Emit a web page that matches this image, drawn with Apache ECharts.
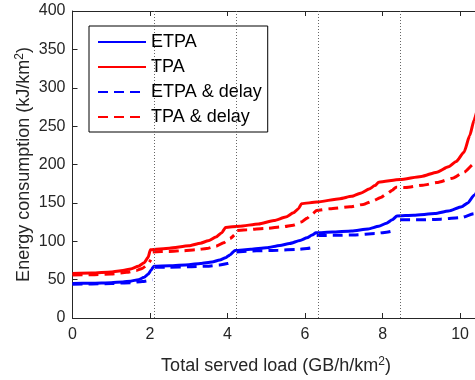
<!DOCTYPE html>
<html>
<head>
<meta charset="utf-8">
<style>
  html, body { margin: 0; padding: 0; background: #fff; }
  #chart { width: 475px; height: 380px; }
</style>
<script src="https://cdn.jsdelivr.net/npm/echarts@6/dist/echarts.min.js"></script>
</head>
<body>
<div id="chart"></div>
<script>
// Energy consumption vs. total served load for the four allocation schemes.
const seriesNames = ['ETPA', 'TPA', 'ETPA & delay', 'TPA & delay'];

// ETPA (solid blue)
const etpaX = [0, 0.5, 1.0, 1.3, 1.5, 1.7, 1.85, 1.95, 2.03, 2.1,
  2.5, 3.0, 3.3, 3.6, 3.8, 3.95, 4.07, 4.19,
  4.6, 5.0, 5.35, 5.6, 5.87, 6.05, 6.18, 6.28,
  6.7, 7.2, 7.63, 7.9, 8.1, 8.25, 8.37,
  8.8, 9.35, 9.7, 10.04, 10.2, 10.36, 10.5];
const etpaY = [45, 45.3, 46, 47, 48, 50, 53, 57, 62.5, 67.5,
  68, 69.5, 71, 73, 75.5, 78.5, 82.5, 88,
  89.5, 91.5, 94.5, 97, 101, 104.5, 108, 111,
  112, 113.5, 116, 119.5, 123.5, 128, 133,
  134, 136, 139.5, 145, 150, 160, 172];

// TPA (solid red)
const tpaX = [0, 0.5, 1.0, 1.3, 1.5, 1.7, 1.85, 1.95, 2.01,
  2.5, 3.0, 3.3, 3.5, 3.7, 3.85, 3.95,
  4.3, 4.8, 5.2, 5.5, 5.7, 5.83, 5.91,
  6.3, 6.9, 7.2, 7.45, 7.65, 7.8, 7.9,
  8.45, 9.0, 9.4, 9.7, 9.9, 10.1, 10.25, 10.36, 10.5];
const tpaY = [58, 58.5, 60, 62, 64, 67.5, 72, 79, 89,
  91, 94, 97.5, 100.5, 105.5, 111, 118,
  119.5, 122.5, 127, 131.5, 137, 142.5, 149,
  151, 155.5, 158.5, 163, 168, 172.5, 177,
  180.5, 184.5, 190, 197, 204, 216, 238, 258, 285];

// ETPA & delay (dashed blue); null marks the break between load regions
const etpaDelayX = [0, 0.5, 1.0, 1.5, 1.8, 2.07, 2.1, 2.12,
  2.5, 3.0, 3.46, 3.8, 4.0, 4.15, 4.2, 4.23,
  4.75, 5.3, 5.78, 6.05, 6.22, 6.26, 6.3,
  6.8, 7.3, 7.8, 8.1, 8.35, 8.4, 8.45,
  9.0, 9.5, 10.04, 10.36, 10.5];
const etpaDelayY = [44, 44.3, 45, 46, 47.5, 50, null, 66,
  66.2, 66.8, 67.5, 69, 71, 73.5, null, 86,
  87.5, 88.3, 89.3, 90.5, 92, null, 107.5,
  107.7, 108.3, 110, 111.8, 114.5, null, 128,
  128, 128.8, 131, 136, 140];

// TPA & delay (dashed red)
const tpaDelayX = [0, 0.5, 1.0, 1.4, 1.65, 1.8, 1.92, 2.02, 2.05, 2.07,
  2.5, 2.85, 3.2, 3.46, 3.7, 3.9, 4.06, 4.17, 4.21, 4.25,
  4.5, 5.0, 5.43, 5.7, 5.9, 6.05, 6.17, 6.3,
  6.64, 7.16, 7.5, 7.75, 7.95, 8.12, 8.25, 8.35,
  8.6, 9.04, 9.4, 9.8, 10.1, 10.36, 10.5];
const tpaDelayY = [56, 56.5, 57.3, 59.5, 62, 64.5, 69, 76, null, 86,
  86.8, 87.7, 89, 90.5, 93.5, 98, 103.5, 108, null, 114,
  115, 116.8, 118.8, 121, 125, 130, 135, 140,
  142.3, 144.8, 148, 152.5, 157, 162, 166.5, 170.5,
  170, 173, 176.5, 182, 190, 201, 210];

// Vertical dotted dividers
const dividerX = [2.12, 4.23, 6.34, 8.45];

// Axis ranges and ticks
const xMin = 0, xMax = 10.5, xStep = 2;
const yMin = 0, yMax = 400, yStep = 50;

const pairs = (xs, ys) => xs.map((x, i) => [x, ys[i] === null ? '-' : ys[i]]);

const txt = '#262626';
const fontFamily = '"Liberation Sans", Arial, Helvetica, sans-serif';

const chart = echarts.init(document.getElementById('chart'), null, { renderer: 'canvas' });

function lineSeries(name, data, color, dashed) {
  return {
    name: name,
    type: 'line',
    data: data,
    symbol: 'none',
    smooth: 0.2,
    smoothMonotone: 'x',
    connectNulls: false,
    clip: true,
    lineStyle: { color: color, width: 3, type: dashed ? [10, 6] : 'solid' },
    itemStyle: { color: color },
    z: 3
  };
}

const nameRich = {
  sup: { fontSize: 12, verticalAlign: 'top', lineHeight: 12, color: txt, fontFamily: fontFamily }
};

chart.setOption({
  animation: false,
  backgroundColor: '#fff',
  textStyle: { fontFamily: fontFamily },
  grid: { left: 72.5, top: 11, width: 407, height: 307, containLabel: false, outerBoundsMode: 'none' },
  legend: {
    orient: 'vertical',
    left: 89,
    top: 26,
    padding: [6, 6, 5, 8],
    itemWidth: 48,
    itemHeight: 20,
    itemGap: 5,
    backgroundColor: '#fff',
    borderColor: '#000',
    borderWidth: 1,
    borderRadius: 0,
    data: seriesNames,
    itemStyle: { color: 'rgba(0,0,0,0)', borderWidth: 0, opacity: 0 },
    textStyle: { fontSize: 18, color: '#000', lineHeight: 20, fontFamily: fontFamily }
  },
  xAxis: [{
    type: 'value',
    position: 'bottom',
    min: xMin, max: xMax, interval: xStep,
    name: 'Total served load (GB/h/km{sup|2})',
    nameLocation: 'middle',
    nameGap: 37.5,
    nameMoveOverlap: false,
    nameTextStyle: { fontSize: 18, color: txt, lineHeight: 22, rich: nameRich },
    axisLine: { show: true, lineStyle: { color: txt, width: 1 } },
    axisTick: { show: true, inside: true, length: 5, lineStyle: { color: txt } },
    axisLabel: { fontSize: 16, color: txt, margin: 9, showMaxLabel: false },
    splitLine: { show: false }
  }, {
    type: 'value',
    position: 'top',
    min: xMin, max: xMax, interval: xStep,
    axisLine: { show: true, lineStyle: { color: txt, width: 1 } },
    axisTick: { show: true, inside: true, length: 5, lineStyle: { color: txt } },
    axisLabel: { show: false },
    splitLine: { show: false }
  }],
  yAxis: {
    type: 'value',
    min: yMin, max: yMax, interval: yStep,
    name: 'Energy consumption (kJ/km{sup|2})',
    nameLocation: 'middle',
    nameGap: 37,
    nameMoveOverlap: false,
    nameTextStyle: { fontSize: 18, color: txt, lineHeight: 22, rich: nameRich },
    axisLine: { show: true, lineStyle: { color: txt, width: 1 } },
    axisTick: { show: true, inside: true, length: 5, lineStyle: { color: txt } },
    axisLabel: { fontSize: 16, color: txt, margin: 7 },
    splitLine: { show: false }
  },
  series: [
    lineSeries('ETPA', pairs(etpaX, etpaY), '#0000ff', false),
    lineSeries('TPA', pairs(tpaX, tpaY), '#ff0000', false),
    lineSeries('ETPA & delay', pairs(etpaDelayX, etpaDelayY), '#0000ff', true),
    lineSeries('TPA & delay', pairs(tpaDelayX, tpaDelayY), '#ff0000', true),
    {
      name: 'dividers',
      type: 'line',
      data: [],
      silent: true,
      z: 1,
      markLine: {
        silent: true,
        symbol: 'none',
        label: { show: false },
        lineStyle: { color: '#666', width: 1, type: [1, 2] },
        data: dividerX.map(x => ({ xAxis: x }))
      }
    }
  ]
});
</script>
</body>
</html>
